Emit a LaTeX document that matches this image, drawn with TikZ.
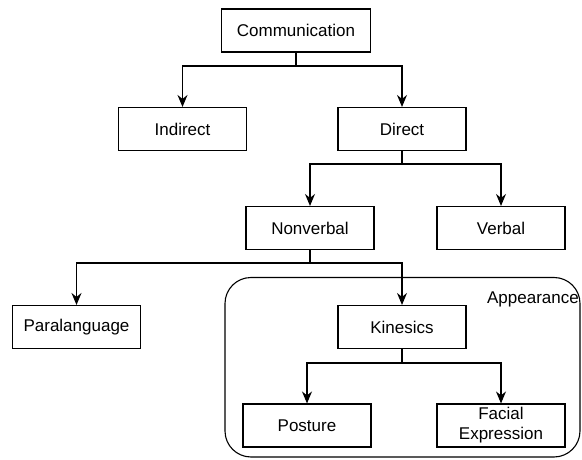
\documentclass[tikz,border=0pt]{standalone}
\usepackage{fontspec}
\setmainfont{Liberation Sans}
\usetikzlibrary{arrows.meta}
\begin{document}
\begin{tikzpicture}[x=1pt,y=-1pt,
  box/.style={draw, line width=1.1pt, minimum width=128pt, minimum height=43pt,
    inner sep=0pt, align=center, font=\fontsize{17pt}{20pt}\selectfont},
  link/.style={draw, line width=1.1pt,
    -{Stealth[length=12pt,width=10pt,inset=4pt]}},
  group/.style={draw, line width=1.1pt, rounded corners=26pt}]
  \fill[white] (0,0) rectangle (582,460);
  \useasboundingbox (0,0) rectangle (582,460);

  % container around the kinesics branch
  \draw[group] (225,277.5) rectangle (580,457);
  \node[anchor=base east, inner sep=0pt, font=\fontsize{17pt}{20pt}\selectfont]
    (appearance) at (579,303) {Appearance};

  % boxes
  \node[box, minimum width=149pt] (comm) at (296,30.5) {Communication};
  \node[box] (ind)  at (182.5,129) {Indirect};
  \node[box] (dir)  at (402,129) {Direct};
  \node[box] (nonv) at (310,228) {Nonverbal};
  \node[box] (verb) at (501,228) {Verbal};
  \node[box] (para) at (76.5,327) {Paralanguage};
  \node[box] (kin)  at (402,327) {Kinesics};
  \node[box] (post) at (307,425.5) {Posture};
  \node[box] (face) at (501,425.5) {Facial\\Expression};

  % junction levels of the tree
  \coordinate (j1) at (0,66);
  \coordinate (j2) at (0,164);
  \coordinate (j3) at (0,263);
  \coordinate (j4) at (0,363);

  % connectors
  \draw[link] (comm.south) -- (comm.south |- j1) -| (ind.north);
  \draw[link] (comm.south) -- (comm.south |- j1) -| (dir.north);
  \draw[link] (dir.south) -- (dir.south |- j2) -| (nonv.north);
  \draw[link] (dir.south) -- (dir.south |- j2) -| (verb.north);
  \draw[link] (nonv.south) -- (nonv.south |- j3) -| (para.north);
  \draw[link] (nonv.south) -- (nonv.south |- j3) -| (kin.north);
  \draw[link] (kin.south) -- (kin.south |- j4) -| (post.north);
  \draw[link] (kin.south) -- (kin.south |- j4) -| (face.north);
\end{tikzpicture}
\end{document}
